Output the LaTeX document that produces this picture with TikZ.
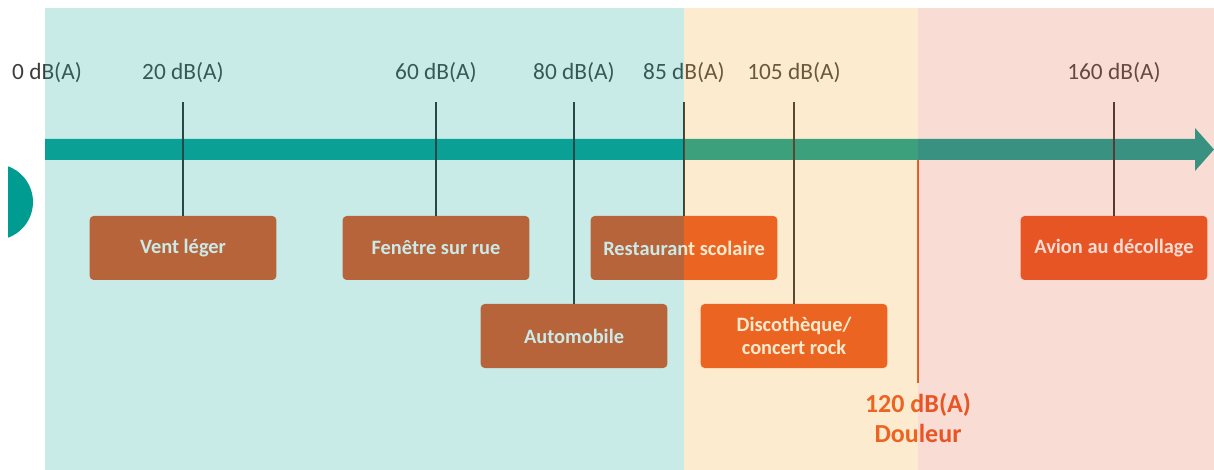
\documentclass[tikz,border=0pt]{standalone}
\usepackage{fontspec}
\setmainfont{Carlito}
\usetikzlibrary{
    arrows.meta,
    positioning,
    calc
}
\definecolor{BarTeal}{RGB}{0,156,146}
\definecolor{BoxOrange}{RGB}{232,76,24}
\definecolor{TickGray}{RGB}{38,40,42}
\definecolor{LabelGray}{RGB}{60,60,60}
\definecolor{ZoneCalm}{RGB}{40,175,165}
\definecolor{ZoneRisk}{RGB}{247,175,63}
\definecolor{ZonePain}{RGB}{231,115,79}
\tikzset{
  level/.style   = {inner sep=0pt, text=LabelGray,
                    font=\fontsize{17.5}{20}\selectfont},
  source/.style  = {fill=BoxOrange, rounded corners=3pt, minimum width=140pt,
                    minimum height=48pt, align=center, text=white,
                    font=\fontsize{15.3}{17.5}\selectfont\bfseries},
  tick/.style    = {draw=TickGray, line width=1.6pt, shorten <=14pt},
  painline/.style= {draw=BoxOrange, line width=2pt, shorten >=7.5pt},
  zone/.style    = {fill opacity=0.25}
}

\begin{document}
\begin{tikzpicture}[x=0.75pt, y=-0.75pt]
\useasboundingbox (0,0) rectangle (1214,470);
% half disc on the left
\begin{scope}
  \clip (8,0) rectangle (60,470);
  \fill[BarTeal] (-5,202) circle (38);
\end{scope}
% the dB scale
\fill[BarTeal] (45,139) -- (1195,139) -- (1195,128) -- (1214,149.5)
  -- (1195,171) -- (1195,160) -- (45,160) -- cycle;
\coordinate (pain) at (918,160);

\node[level] (l0)   at (47,73)   {0 dB(A)};
\node[level] (l20)  at (183,73)  {20 dB(A)};
\node[level] (l60)  at (436,73)  {60 dB(A)};
\node[level] (l80)  at (574,73)  {80 dB(A)};
\node[level] (l85)  at (684,73)  {85 dB(A)};
\node[level] (l105) at (794,73)  {105 dB(A)};
\node[level] (l160) at (1114,73) {160 dB(A)};

\node[source] (vent)   at (183,248)  {Vent léger};
\node[source] (window) at (436,248)  {Fenêtre sur rue};
\node[source] (canteen) at (684,248) {Restaurant scolaire};
\node[source] (plane)  at (1114,248) {Avion au décollage};
\node[source] (car)    at (574,336)  {Automobile};
\node[source] (disco)  at (794,336)  {Discothèque/\\concert rock};

\draw[tick] (l20.south) -- (vent.north);
\draw[tick] (l60.south) -- (window.north);
\draw[tick] (l80.south) -- (car.north);
\draw[tick] (l85.south) -- (canteen.north);
\draw[tick] (l105.south) -- (disco.north);
\draw[tick] (l160.south) -- (plane.north);

\node[anchor=north, inner sep=0pt, align=center, text=BoxOrange,
      font=\fontsize{19.5}{22.5}\selectfont\bfseries] (l120) at (918,393)
      {120 dB(A)\\Douleur};
\draw[painline] (pain) -- (l120.north);

% coloured zones laid over everything
\fill[zone, ZoneCalm] (45,8) rectangle (684,470);
\fill[zone, ZoneRisk] (684,8) rectangle (918,470);
\fill[zone, ZonePain] (918,8) rectangle (1214,470);
\end{tikzpicture}
\end{document}
